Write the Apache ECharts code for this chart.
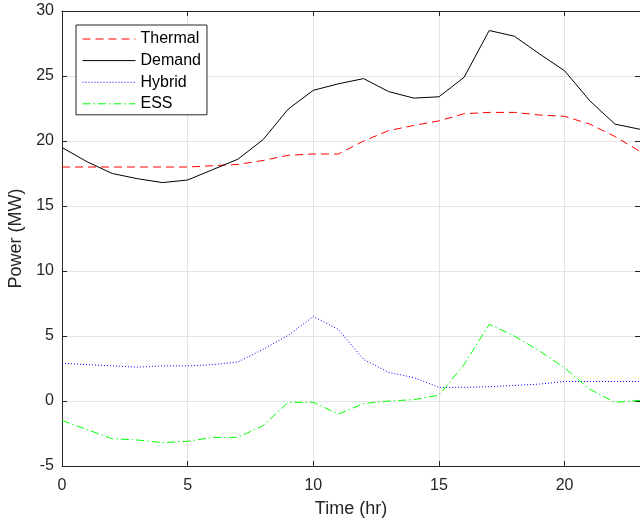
<!DOCTYPE html>
<html>
<head>
<meta charset="utf-8">
<script src="https://cdn.jsdelivr.net/npm/echarts@6/dist/echarts.min.js"></script>
<style>
html,body{margin:0;padding:0;background:#fff;}
#chart{width:640px;height:526px;}
</style>
</head>
<body>
<div id="chart"></div>
<script>
var hours = [0,1,2,3,4,5,6,7,8,9,10,11,12,13,14,15,16,17,18,19,20,21,22,23];
var thermal = [18.0,18.0,18.0,18.0,18.0,18.0,18.1,18.2,18.5,18.9,19.0,19.0,20.0,20.8,21.2,21.55,22.1,22.2,22.2,22.0,21.9,21.3,20.35,19.2];
var demand = [19.5,18.4,17.5,17.1,16.8,17.0,17.8,18.6,20.1,22.45,23.9,24.4,24.8,23.8,23.3,23.4,24.9,28.5,28.06,26.7,25.4,23.1,21.3,20.9];
var hybrid = [2.9,2.8,2.7,2.6,2.7,2.7,2.8,3.0,3.97,5.05,6.5,5.5,3.2,2.2,1.8,1.05,1.05,1.1,1.2,1.3,1.5,1.5,1.5,1.5];
var ess = [-1.5,-2.2,-2.9,-3.0,-3.2,-3.1,-2.8,-2.8,-1.9,-0.1,-0.1,-1.0,-0.2,0.0,0.1,0.45,2.8,5.9,5.0,3.85,2.55,0.9,-0.1,0.05];
var seriesNames = ['Thermal','Demand','Hybrid','ESS'];
var xTitle = 'Time (hr)';
var yTitle = 'Power (MW)';

function pairs(vals){ return hours.map(function(h,i){ return [h, vals[i]]; }); }

var axisColor = '#262626';
var font = 'Liberation Sans, Helvetica, Arial, sans-serif';

var chart = echarts.init(document.getElementById('chart'), null, {renderer:'canvas'});
chart.setOption({
  animation:false,
  backgroundColor:'#fff',
  grid:{left:62, right:0, top:11, bottom:60, containLabel:false, outerBoundsMode:'none'},
  legend:{
    orient:'vertical', left:76, top:25,
    data:seriesNames,
    itemWidth:53, itemHeight:14, itemGap:5.6,
    padding:[6,6,3,6],
    borderColor:axisColor, borderWidth:1, backgroundColor:'#fff',
    itemStyle:{opacity:0},
    lineStyle:{width:1},
    textStyle:{fontFamily:font, fontSize:16, color:'#000', lineHeight:16}
  },
  xAxis:[{
    type:'value', min:0, max:23, interval:5,
    name:xTitle, nameLocation:'middle', nameGap:34,
    nameTextStyle:{fontFamily:font, fontSize:18, color:axisColor},
    axisLine:{show:true, onZero:false, lineStyle:{color:axisColor, width:1}},
    axisTick:{show:true, inside:true, length:5, lineStyle:{color:axisColor}},
    axisLabel:{fontFamily:font, fontSize:16, color:axisColor, margin:12, showMaxLabel:false},
    splitLine:{show:true, lineStyle:{color:'#e3e3e3', width:1}}
  },{
    type:'value', min:0, max:23, interval:5, position:'top',
    axisLine:{show:true, onZero:false, lineStyle:{color:axisColor, width:1}},
    axisTick:{show:true, inside:true, length:5, lineStyle:{color:axisColor}},
    axisLabel:{show:false}, splitLine:{show:false}
  }],
  yAxis:[{
    type:'value', min:-5, max:30, interval:5,
    name:yTitle, nameLocation:'middle', nameGap:35,
    nameTextStyle:{fontFamily:font, fontSize:18, color:axisColor},
    axisLine:{show:true, onZero:false, lineStyle:{color:axisColor, width:1}},
    axisTick:{show:true, inside:true, length:5, lineStyle:{color:axisColor}},
    axisLabel:{fontFamily:font, fontSize:16, color:axisColor, margin:8},
    splitLine:{show:true, lineStyle:{color:'#e3e3e3', width:1}}
  },{
    type:'value', min:-5, max:30, interval:5, position:'right',
    axisLine:{show:true, onZero:false, lineStyle:{color:axisColor, width:1}},
    axisTick:{show:true, inside:true, length:5, lineStyle:{color:axisColor}},
    axisLabel:{show:false}, splitLine:{show:false}
  }],
  series:[
    {name:seriesNames[0], type:'line', data:pairs(thermal), showSymbol:false, symbol:'none',
     lineStyle:{color:'#ff0000', width:1, type:[8,5]}, itemStyle:{color:'#ff0000'}},
    {name:seriesNames[1], type:'line', data:pairs(demand), showSymbol:false, symbol:'none',
     lineStyle:{color:'#000000', width:1, type:'solid'}, itemStyle:{color:'#000000'}},
    {name:seriesNames[2], type:'line', data:pairs(hybrid), showSymbol:false, symbol:'none',
     lineStyle:{color:'#0000ff', width:1, type:[1,2]}, itemStyle:{color:'#0000ff'}},
    {name:seriesNames[3], type:'line', data:pairs(ess), showSymbol:false, symbol:'none',
     lineStyle:{color:'#00ff00', width:1, type:[8,3,1.5,3]}, itemStyle:{color:'#00ff00'}}
  ]
});
</script>
</body>
</html>
